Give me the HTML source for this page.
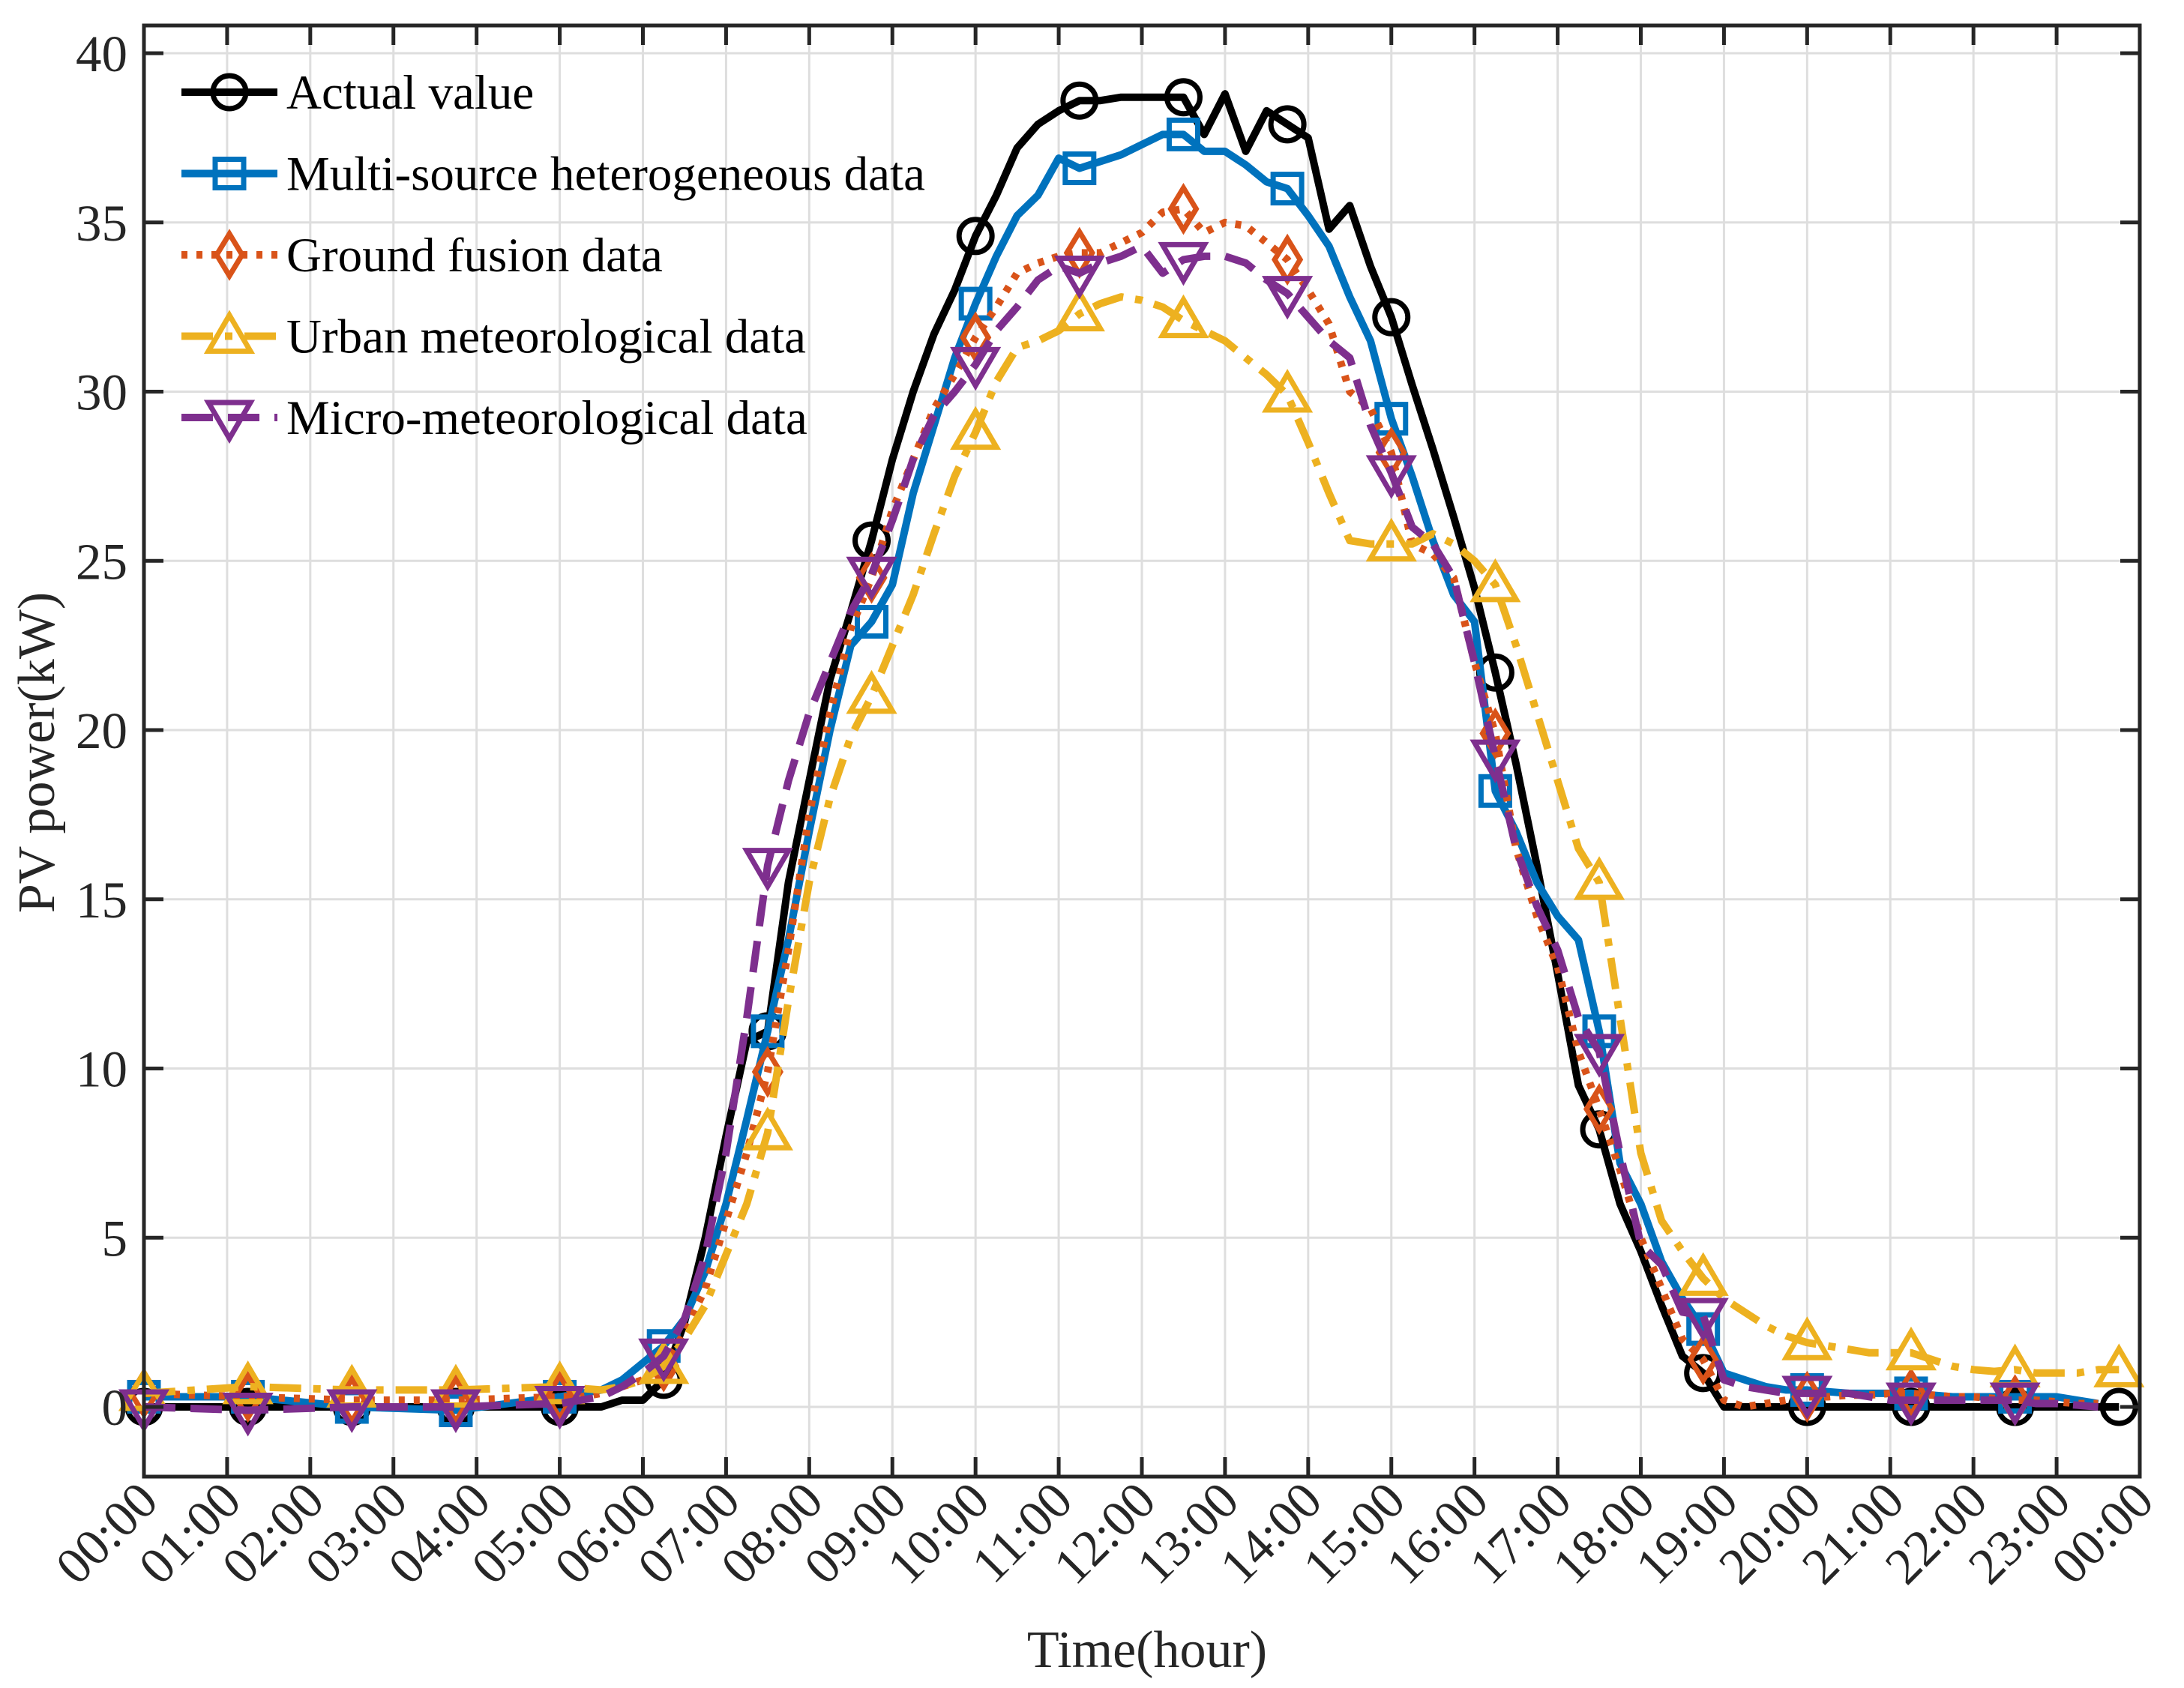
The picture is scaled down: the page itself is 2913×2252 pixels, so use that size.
<!DOCTYPE html>
<html><head><meta charset="utf-8"><style>
html,body{margin:0;padding:0;background:#fff;}
svg{display:block;font-family:"Liberation Serif",serif;}
</style></head><body>
<svg id="chart" width="2913" height="2252" viewBox="0 0 2913 2252">
<g id="grid"></g>
<g id="series"></g>
<g id="axes"></g>
<g id="legend"></g>
<text x="1530" y="2224" font-size="70" text-anchor="middle" fill="#262626">Time(hour)</text>
<text transform="translate(72,1004) rotate(-90)" font-size="70" text-anchor="middle" fill="#262626">PV power(kW)</text>
</svg>
<script>
const xTickLabels = ["00:00","01:00","02:00","03:00","04:00","05:00","06:00","07:00","08:00","09:00","10:00","11:00","12:00","13:00","14:00","15:00","16:00","17:00","18:00","19:00","20:00","21:00","22:00","23:00","00:00"];
const yTicks = [0,5,10,15,20,25,30,35,40];
const seriesNames = ["Actual value","Multi-source heterogeneous data","Ground fusion data","Urban meteorological data","Micro-meteorological data"];

const dayTimes = [5.25,5.5,5.75,6,6.25,6.5,6.75,7,7.25,7.5,7.75,8,8.25,8.5,8.75,9,9.25,9.5,9.75,10,10.25,10.5,10.75,11,11.25,11.5,11.75,12,12.25,12.5,12.75,13,13.25,13.5,13.75,14,14.25,14.5,14.75,15,15.25,15.5,15.75,16,16.25,16.5,16.75,17,17.25,17.5,17.75,18,18.25,18.5,18.75,19,19.25,19.5,19.75,20,20.25,20.5,20.75,21,21.25,21.5,21.75,22,22.25,22.5,22.75,23,23.25,23.5,23.75];
const times = [0,1.25,2.5,3.75,5].concat(dayTimes);

const actualValues = [0,0,0,0,0, 0,0,0.2,0.2,0.8,2.5,5,8,10.8,11.1,15.5,18.5,21.5,23.5,25.6,28,30,31.7,33,34.6,35.8,37.2,37.9,38.3,38.6,38.6,38.7,38.7,38.7,38.7,37.6,38.8,37.1,38.3,37.9,37.5,34.8,35.5,33.7,32.2,30.2,28.3,26.3,24.2,21.7,19,16,12.8,9.5,8.2,6,4.6,3,1.5,1,0,0,0,0,0,0,0,0,0,0,0,0,0,0,0,0,0,0,0,0];
const multiValues = [0.3,0.3,0,-0.1,0.3, 0.4,0.5,0.8,1.3,1.8,2.6,4,6,8.5,11.1,13.8,17,20,22.5,23.2,24.3,27,29,31,32.6,34,35.2,35.8,36.9,36.6,36.8,37,37.3,37.6,37.6,37.1,37.1,36.7,36.2,36,35.2,34.3,32.8,31.5,29.2,27.5,25.6,24,23.2,18.2,17,15.5,14.5,13.8,11.1,7.2,6,4.3,3.2,2.3,1,0.8,0.6,0.5,0.5,0.45,0.4,0.4,0.4,0.4,0.35,0.3,0.3,0.3,0.3,0.3,0.3,0.2,0.1];
const groundValues = [0.4,0.3,0.2,0.2,0.3, 0.3,0.4,0.6,0.8,1.2,2.2,3.5,5.5,7.5,9.9,13.5,17.5,20.5,23,24.5,26.5,28,29.5,30.5,31.6,32.5,33.5,33.8,34,34.1,34.1,34.4,34.7,35.3,35.4,34.7,35,34.9,34.4,33.9,33,32,30,29.5,28.2,25.5,25.2,24.5,22,19.9,16.5,14.5,13,10.5,8.8,7,5,3.5,2,1.4,0.2,0,0.1,0.2,0.3,0.3,0.35,0.35,0.4,0.4,0.35,0.3,0.3,0.25,0.2,0.2,0.15,0.1,0.1];
const urbanValues = [0.4,0.6,0.5,0.5,0.6, 0.55,0.5,0.6,0.8,1.2,2,3,4.5,6,8.1,12,15.5,18,19.8,21,22.5,24,25.8,27.5,28.8,30.3,31.3,31.5,31.8,32.3,32.6,32.8,32.7,32.5,32.1,31.8,31.5,31,30.5,29.9,28.5,27,25.6,25.5,25.5,25.5,25.8,25.5,25,24.3,22.5,20.5,18.5,16.5,15.5,11.5,7.5,5.5,4.6,3.8,3.2,2.8,2.4,2.1,1.9,1.8,1.7,1.6,1.6,1.6,1.4,1.2,1.1,1.05,1.1,1,1,1,1.1,1.1];
const microValues = [0,-0.1,0,0,0.1, 0.2,0.3,0.6,1,1.5,2.6,4.5,7.5,11.5,16,18.5,20.5,22,23.5,24.6,26.2,28,29.3,30,30.8,31.8,32.5,33.3,33.7,33.5,33.8,34,34.3,33.5,33.9,34,34,33.8,33.3,32.9,32.2,31.5,31,29,27.6,26,25.5,24.5,22,19.2,16.5,14.8,13.5,11.5,10.5,7.5,4.8,4.2,2.8,2.7,0.8,0.6,0.5,0.4,0.4,0.4,0.4,0.3,0.2,0.2,0.2,0.2,0.2,0.2,0.2,0.1,0.1,0.05,0];

const allValues = [actualValues, multiValues, groundValues, urbanValues, microValues];
const colors = ["#000000","#0072BD","#D95319","#EDB120","#7E2F8E"];
const dashes = ["none","none","8 12","42 16 10 16","42 20"];
const markers = ["circle","square","diamond","triangle","vtriangle"];

const L=192,R=2854,T=34,B=1970;
function xs(t){return L+t*(R-L)/24;}
function ys(v){return 1877-v*45.15;}
const NS="http://www.w3.org/2000/svg";
function mk(tag,attrs,parent){const e=document.createElementNS(NS,tag);for(const k in attrs)e.setAttribute(k,attrs[k]);parent.appendChild(e);return e;}

function markerShape(type,cx,cy,color,parent){
  const s=22;let e;
  const sw=7;
  if(type==="circle") e=mk("circle",{cx:cx,cy:cy,r:s,fill:"none",stroke:color,"stroke-width":sw},parent);
  else if(type==="square") e=mk("rect",{x:cx-s+3,y:cy-s+3,width:2*s-6,height:2*s-6,fill:"none",stroke:color,"stroke-width":sw},parent);
  else if(type==="diamond") e=mk("polygon",{points:`${cx},${cy-s-6} ${cx+s-5},${cy} ${cx},${cy+s+6} ${cx-s+5},${cy}`,fill:"none",stroke:color,"stroke-width":sw},parent);
  else if(type==="triangle") e=mk("polygon",{points:`${cx},${cy-s-6} ${cx+s+6},${cy+s-2} ${cx-s-6},${cy+s-2}`,fill:"none",stroke:color,"stroke-width":sw},parent);
  else e=mk("polygon",{points:`${cx},${cy+s+6} ${cx+s+6},${cy-s+2} ${cx-s-6},${cy-s+2}`,fill:"none",stroke:color,"stroke-width":sw},parent);
  return e;
}

const grid=document.getElementById("grid");
for(let i=0;i<xTickLabels.length;i++){
  const gl=mk("line",{x1:xs(i),x2:xs(i),y1:T,y2:B,stroke:"#dedede","stroke-width":3},grid);
  
  
}
yTicks.forEach(v=>{
  const gl=mk("line",{x1:L,x2:R,y1:ys(v),y2:ys(v),stroke:"#dedede","stroke-width":3},grid);
  
  
});

const sg=document.getElementById("series");
allValues.forEach((vals,si)=>{
  const g=mk("g",{},sg);
  
  
  const pts=vals.map((v,i)=>xs(times[i]).toFixed(1)+","+ys(v).toFixed(1)).join(" ");
  const pl=mk("polyline",{points:pts,fill:"none",stroke:colors[si],"stroke-width":10,"stroke-dasharray":dashes[si],"stroke-linejoin":"round"},g);
  
  
  vals.forEach((v,i)=>{
    const q=times[i]/1.25;
    if(Math.abs(q-Math.round(q))<1e-6){
      const m=markerShape(markers[si],xs(times[i]),ys(v),colors[si],g);
      
      
    }
  });
});

const ax=document.getElementById("axes");
const frame=mk("rect",{x:L,y:T,width:R-L,height:B-T,fill:"none",stroke:"#262626","stroke-width":5},ax);


xTickLabels.forEach((lab,i)=>{
  const x=xs(i);
  mk("line",{x1:x,x2:x,y1:B,y2:B-26,stroke:"#262626","stroke-width":5},ax);
  mk("line",{x1:x,x2:x,y1:T,y2:T+26,stroke:"#262626","stroke-width":5},ax);
  const t=mk("text",{transform:`translate(${x+22},${B+36}) rotate(-45)`,"font-size":69,"text-anchor":"end",fill:"#262626"},ax);
  t.textContent=lab;
  
  
});
yTicks.forEach(v=>{
  const y=ys(v);
  mk("line",{x1:L,x2:L+26,y1:y,y2:y,stroke:"#262626","stroke-width":5},ax);
  mk("line",{x1:R,x2:R-26,y1:y,y2:y,stroke:"#262626","stroke-width":5},ax);
  const t=mk("text",{x:L-22,y:y+24,"font-size":69,"text-anchor":"end",fill:"#262626"},ax);
  t.textContent=String(v);
  
  
});

const lg=document.getElementById("legend");
seriesNames.forEach((nm,i)=>{
  const y=123+i*108.5;
  const g=mk("g",{},lg);
  
  
  mk("line",{x1:242,x2:370,y1:y,y2:y,stroke:colors[i],"stroke-width":10,"stroke-dasharray":dashes[i]},g);
  markerShape(markers[i],306,y,colors[i],g);
  const t=mk("text",{x:382,y:y+22,"font-size":65,fill:"#000"},g);
  t.textContent=nm;
  
  
});
</script>
</body></html>
